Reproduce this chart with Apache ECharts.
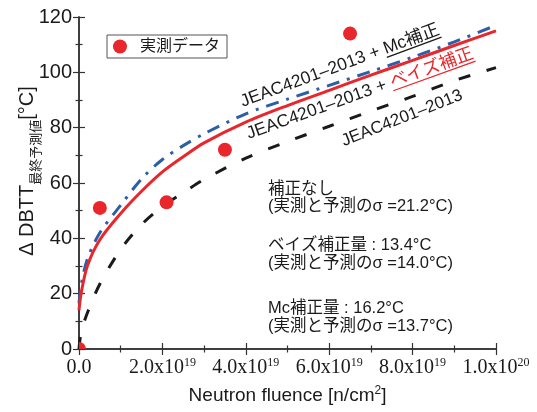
<!DOCTYPE html>
<html><head><meta charset="utf-8">
<script src="https://cdn.jsdelivr.net/npm/echarts@6/dist/echarts.min.js"></script>
<style>html,body{margin:0;padding:0;background:#fff}#c{width:537px;height:412px}</style>
</head><body><div id="c"></div>
<script>
// ---- data ----
const fluence = [0, 0.05e19, 0.2e19, 0.5e19, 1e19, 1.5e19, 2e19, 2.5e19, 3e19, 4e19, 5e19, 6e19, 7e19, 8e19, 9e19, 10e19];
const jeac  = [0, 6, 13, 23.5, 36, 45, 51.5, 56.5, 61.3, 69, 75, 80.5, 86, 91.3, 97, 101.7];
const bayes = [14, 20, 30, 39.5, 49, 57, 64, 69.5, 74.5, 82, 88, 93.5, 99, 104.3, 109.7, 115];
const mc    = [16.5, 23, 32.5, 42, 52, 61.5, 68.5, 73.5, 77.8, 85, 90.3, 95.3, 100.3, 105.5, 111, 117];
const measX = [0, 0.5e19, 2.1e19, 3.5e19, 6.5e19];
const measY = [0, 51, 53, 72, 114];
const xTickMant = ['0.0', '2.0', '4.0', '6.0', '8.0', '1.0'];
const xTickExp  = ['', '19', '19', '19', '19', '20'];
const legendName = '実測データ';
const statLines = ['補正なし', '(実測と予測のσ =21.2°C)', 'ベイズ補正量 : 13.4°C', '(実測と予測のσ =14.0°C)', 'Mc補正量 : 16.2°C', '(実測と予測のσ =13.7°C)'];

// ---- chart ----
const SANS = '"Liberation Sans", "Noto Sans CJK JP", sans-serif';
const SERIF = '"Liberation Serif", "DejaVu Serif", serif';
const INK = '#1a1a1a';
const RED = '#e8262b', BLUE = '#2b5fa8';
const pair = (xs, ys) => xs.map((x, i) => [x, ys[i]]);
const chart = echarts.init(document.getElementById('c'), null, {renderer: 'canvas'});

const axLine = {show: true, lineStyle: {color: '#333', width: 1.5}};
const tick = {show: true, inside: true, length: 6, lineStyle: {color: '#333', width: 1.2}};
const minor = {show: true, splitNumber: 2, length: 3.5, lineStyle: {color: '#333', width: 1.2}};

const ctx = document.createElement('canvas').getContext('2d');
function measure(t, size) { ctx.font = size + 'px ' + SANS; return ctx.measureText(t).width; }

function annot(x, y, deg, parts, size) {
  const children = [];
  let off = 0;
  parts.forEach(p => {
    const w = measure(p.t, size);
    children.push({type: 'text', x: off, y: 3.5, style: {text: p.t, fill: p.c || INK, fontSize: size, fontFamily: SANS, align: 'left', verticalAlign: 'bottom'}});
    if (p.u) children.push({type: 'line', shape: {x1: off, y1: 3, x2: off + w, y2: 3}, style: {stroke: p.c || INK, lineWidth: 1.3}});
    off += w;
  });
  return {type: 'group', x: x, y: y, rotation: deg * Math.PI / 180, children: children, z: 50};
}

const statY = [189, 206.7, 245, 263.3, 308.3, 326.7];
const graphics = statLines.map((t, i) => ({type: 'text', x: 268, y: statY[i], z: 50,
  style: {text: t, fill: INK, fontSize: 16.5, fontFamily: SANS, align: 'left', verticalAlign: 'middle'}}));
graphics.push(annot(243, 107.3, 20.3, [{t: 'JEAC4201–2013 + '}, {t: 'Mc補正', u: true}], 17.5));
graphics.push(annot(249, 139.5, 19.8, [{t: 'JEAC4201–2013 + '}, {t: 'ベイズ補正', u: true, c: RED}], 17.5));
graphics.push(annot(344, 146.5, 21.5, [{t: 'JEAC4201–2013'}], 17));
graphics.push({type: 'text', x: 27, y: 171, rotation: Math.PI / 2, z: 50,
  style: {text: '{m|Δ DBTT}{s|最終予測値}{m|[°C]}', fill: INK, align: 'center', verticalAlign: 'middle',
    rich: {m: {fontSize: 20, fontFamily: SANS, fill: INK, lineHeight: 32},
           s: {fontSize: 13, fontFamily: SANS, fill: INK, lineHeight: 14, verticalAlign: 'bottom'}}}});

const option = {
  animation: false,
  backgroundColor: '#fff',
  grid: {left: 79, right: 41, top: 17, bottom: 59, containLabel: false},
  legend: {data: [{name: legendName, icon: 'circle'}], left: 107, top: 35, itemWidth: 30, itemHeight: 14,
    padding: [2, 7, 2, 6], borderColor: '#555', borderWidth: 1, backgroundColor: '#fff',
    textStyle: {fontSize: 16, fontFamily: SANS, color: INK, lineHeight: 19}, selectedMode: false},
  xAxis: [
    {type: 'value', position: 'bottom', min: 0, max: 1e20, interval: 2e19,
     axisLine: axLine, axisTick: tick, minorTick: minor, splitLine: {show: false},
     axisLabel: {margin: 8, color: INK,
       formatter: v => { const i = Math.round(v / 2e19); return xTickExp[i] ? '{b|' + xTickMant[i] + 'x10}{s|' + xTickExp[i] + '}' : '{b|' + xTickMant[i] + '}'; },
       rich: {b: {fontFamily: SERIF, fontSize: 20, color: INK, lineHeight: 22},
              s: {fontFamily: SERIF, fontSize: 12, color: INK, lineHeight: 12, verticalAlign: 'top'}}},
     name: 'Neutron fluence [n/cm{s|2}]', nameLocation: 'middle', nameGap: 36,
     nameTextStyle: {fontFamily: SANS, fontSize: 19, color: INK, lineHeight: 22,
       rich: {s: {fontFamily: SANS, fontSize: 12, color: INK, lineHeight: 12, verticalAlign: 'top'}}}},
    {type: 'value', position: 'top', min: 0, max: 1e20, interval: 2e19,
     axisLine: axLine, axisTick: tick, minorTick: minor, splitLine: {show: false}, axisLabel: {show: false}}
  ],
  yAxis: [
    {type: 'value', position: 'left', min: 0, max: 120, interval: 20,
     axisLine: axLine, axisTick: tick, minorTick: minor, splitLine: {show: false},
     axisLabel: {margin: 7, fontSize: 20, fontFamily: SANS, color: INK}},
    {type: 'value', position: 'right', min: 0, max: 120, interval: 20,
     axisLine: axLine, axisTick: tick, minorTick: minor, splitLine: {show: false}, axisLabel: {show: false}}
  ],
  series: [
    {type: 'line', xAxisIndex: 0, yAxisIndex: 0, data: pair(fluence, jeac), symbol: 'none', smooth: 0.3,
     lineStyle: {color: INK, width: 3, type: [12, 17]}, z: 2},
    {type: 'line', xAxisIndex: 0, yAxisIndex: 0, data: pair(fluence, mc), symbol: 'none', smooth: 0.3,
     lineStyle: {color: BLUE, width: 3, type: [13, 8, 3, 8]}, z: 3},
    {type: 'line', xAxisIndex: 0, yAxisIndex: 0, data: pair(fluence, bayes), symbol: 'none', smooth: 0.3,
     lineStyle: {color: RED, width: 3}, z: 4},
    {type: 'custom', name: legendName, xAxisIndex: 0, yAxisIndex: 0, data: pair(measX, measY), clip: true,
     encode: {x: 0, y: 1}, itemStyle: {color: RED}, z: 5,
     renderItem: (params, api) => {
       const p = api.coord([api.value(0), api.value(1)]);
       return {type: 'circle', shape: {cx: p[0], cy: p[1], r: 7}, style: {fill: RED}};
     }}
  ],
  graphic: graphics
};
chart.setOption(option);
</script></body></html>
